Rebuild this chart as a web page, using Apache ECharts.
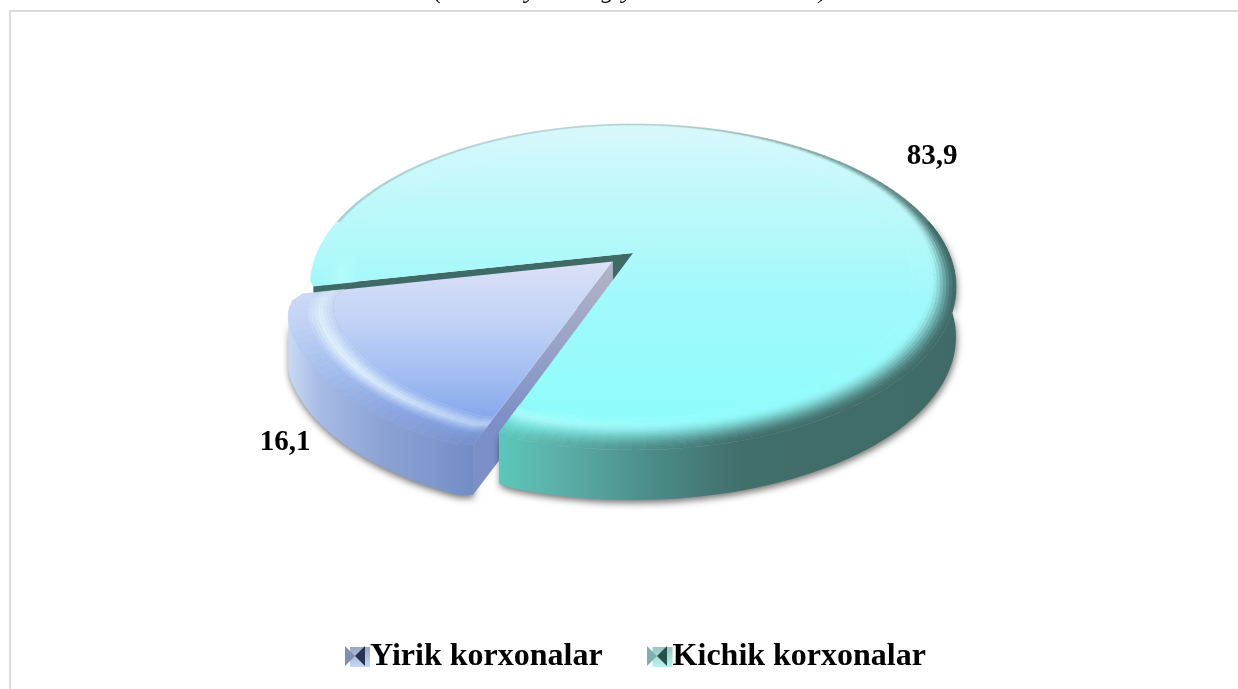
<!DOCTYPE html>
<html><head><meta charset="utf-8">
<style>html,body{margin:0;padding:0;background:#fff;overflow:hidden}#c{width:1238px;height:689px}</style>
<script src="https://cdn.jsdelivr.net/npm/echarts@6/dist/echarts.min.js"></script>
</head><body><div id="c"></div>
<script>
const categories = ['Yirik korxonalar', 'Kichik korxonalar'];
const shares = [16.1, 83.9];
const captionFragments = ['(', 'y', 'g', 'y', ')'];

const FONT = '"Liberation Serif","Times New Roman",serif';
const total = shares[0] + shares[1];
const FIRST = 200.2, CX = 633, CY = 253, YNEAR = 197, YFAR = 129, XMAX = 323, DEPTH = 50, RIM = 0.87;
const P = (YNEAR - YFAR) / (YNEAR + YFAR), A = YNEAR * (1 - P), B = XMAX * Math.sqrt(1 - P * P);
const rad = d => d * Math.PI / 180;
function proj(r, th, du, dv) {
  const u = r * Math.sin(rad(th)) + du, v = -r * Math.cos(rad(th)) + dv, k = 1 - P * v;
  return [CX + B * u / k, CY + A * v / k];
}
const lerp = (a, b, t) => a + (b - a) * t;
const clamp = (x, a, b) => Math.max(a, Math.min(b, x));
const hex = h => [1, 3, 5].map(i => parseInt(h.substr(i, 2), 16));
function ramp(stops, x) {
  if (x <= stops[0][0]) return hex(stops[0][1]);
  for (let i = 1; i < stops.length; i++) if (x <= stops[i][0]) {
    const t = (x - stops[i - 1][0]) / (stops[i][0] - stops[i - 1][0]);
    const a = hex(stops[i - 1][1]), b = hex(stops[i][1]);
    return a.map((c, j) => lerp(c, b[j], t));
  }
  return hex(stops[stops.length - 1][1]);
}
const mix = (a, b, t) => a.map((c, i) => lerp(c, b[i], t));
const css = c => 'rgb(' + c.map(Math.round).join(',') + ')';
const gradient = (x0, y0, x1, y1, stops) => new echarts.graphic.LinearGradient(x0, y0, x1, y1,
  stops.map(s => ({ offset: (s[0] - (x1 !== x0 ? x0 : y0)) / ((x1 !== x0 ? x1 - x0 : y1 - y0)), color: s[1] })), true);

const looks = [{
  face: [[262, '#dbe1f6'], [320, '#c2d3f6'], [370, '#a5c0f2'], [420, '#86a6ec'], [450, '#7f9fe6']],
  wall: [[288, '#c8daf4'], [320, '#a6bbe4'], [380, '#8da3d4'], [440, '#7d96cc'], [485, '#6d8ac4']],
  high: '#dff0fb', cut: [[262, '#b4b4c4'], [340, '#9aa4c8'], [420, '#7d8fc6'], [500, '#7b8fc8']],
  roundStart: 0.015, spanStart: 3, roundEnd: 0.05, spanEnd: 11
}, {
  face: [[124, '#d8f8fb'], [200, '#bff8fa'], [300, '#a0f9fb'], [440, '#8cfcfb']],
  wall: [[495, '#5cc8bb'], [560, '#5bb0a9'], [650, '#4c8c88'], [740, '#416f6c'], [960, '#3f6a67']],
  high: '#c6fdfb', cut: [[250, '#3e6a67'], [340, '#3e6a67']],
  roundStart: 0.01, spanStart: 3, roundEnd: 0.01, spanEnd: 3
}];

function sliceChildren(idx, value) {
  const look = looks[idx], sweep = value / total * 360;
  const start = idx === 0 ? FIRST : FIRST + shares[0] / total * 360, end = start + sweep;
  const mid = rad((start + end) / 2), e = idx === 0 ? 0.083 : 0;
  const du = e * Math.sin(mid), dv = -e * Math.cos(mid);
  const base = idx === 0 ? 5 : 20, out = [];
  const corner = (d, round, span) => {
    if (d >= span) return 1;
    const q = 1 - d / span;
    return 1 - round * (1 - Math.sqrt(1 - q * q));
  };
  const shrink = t => corner(t - start, look.roundStart, look.spanStart) * corner(end - t, look.roundEnd, look.spanEnd);
  const at = (r, t) => proj(r * shrink(t), t, du, dv);
  const angles = from => { const a = []; for (let t = from; t < end - 1e-6; t += 2) a.push(t); a.push(end); return a; };
  const apex = proj(0, 0, du, dv);
  const poly = (pts, fill, z2, extra) => out.push({ type: 'polygon', silent: true, z2, shape: { points: pts }, style: Object.assign({ fill }, extra || {}) });

  const pS = at(1, start);
  poly([apex, pS, [pS[0], pS[1] + DEPTH], [apex[0], apex[1] + DEPTH]],
    idx === 1 ? gradient(0, 250, 0, 340, look.cut) : gradient(0, 262, 0, 500, look.cut), idx === 1 ? 1 : base + 1);
  // outer wall: only the arc that faces the viewer, cut at the silhouette
  let front = angles(idx === 0 ? start : 360 + 78).map(t => at(1, t));
  if (idx === 0) {
    let best = 0;
    front.forEach((p, i) => { if (p[0] < front[best][0]) best = i; });
    front = front.slice(0, best + 1);
  }
  const lower = front.map(p => [p[0], p[1] + DEPTH]).reverse();
  poly(front.concat(lower), gradient(look.wall[0][0], 0, look.wall[look.wall.length - 1][0], 0, look.wall), base,
    { shadowBlur: 7, shadowColor: 'rgba(0,0,0,0.55)', shadowOffsetX: 1, shadowOffsetY: 3 });
  // top face
  const fy0 = look.face[0][0], fy1 = look.face[look.face.length - 1][0];
  poly([apex].concat(angles(start).map(t => at(RIM, t))), gradient(0, fy0, 0, fy1, look.face), base + 2);
  // bevelled rim
  const N = 14, list = angles(start);
  for (let a = 0; a < list.length - 1; a++) {
    const t = list[a], t2 = list[a + 1], tm = rad((t + t2) / 2);
    const su = Math.sin(tm), sv = -Math.cos(tm);
    for (let i = 0; i < N; i++) {
      const r0 = lerp(RIM, 1, i / N), r1 = lerp(RIM, 1, (i + 1) / N), m = (i + 0.5) / N;
      const q = [at(r0, t), at(r0, t2), at(r1, t2), at(r1, t)];
      const cy = (q[0][1] + q[2][1]) / 2, cx = (q[0][0] + q[2][0]) / 2;
      const w = clamp(0.55 + 0.6 * sv + 0.6 * su, 0, 1);
      let c = ramp(look.face, cy);
      const h = clamp(0.25 - 0.95 * su, 0, 1) * clamp(sv * 3, 0, 1) * clamp(1 - Math.abs(m - 0.3) / 0.3, 0, 1);
      c = mix(c, hex(look.high), h);
      const m0 = 0.5 - 0.35 * sv;
      const k = clamp((m - m0) / (1 - m0), 0, 1);
      c = mix(c, ramp(look.wall, cx), w * k * k * (3 - 2 * k));
      if (sv < -0.2) c = mix(c, [120, 140, 140], clamp((m - 0.9) / 0.1, 0, 1) * 0.55);
      const f = css(c);
      poly(q, f, base + 3, { stroke: f, lineWidth: 0.7 });
    }
  }
  out.push({
    type: 'text', silent: true, z2: 40,
    style: {
      text: String(value).replace('.', ','), fill: '#000', font: 'bold 29px ' + FONT,
      x: idx === 0 ? 285 : 932, y: idx === 0 ? 443 : 157, align: 'center', verticalAlign: 'middle'
    }
  });
  return out;
}

const makeSeries = idx => ({
  type: 'custom', name: categories[idx], coordinateSystem: 'none', silent: true,
  data: [[shares[idx]]],
  renderItem: (p, api) => ({ type: 'group', children: sliceChildren(idx, api.value(0)) })
});

const captionX = [438, 531, 608, 628, 823];
const legendMarks = (x, dark, mid) => [
  { type: 'polygon', silent: true, z: 50, shape: { points: [[x, 646], [x + 10, 656], [x, 666]] }, style: { fill: mid } },
  { type: 'polygon', silent: true, z: 50, shape: { points: [[x + 20, 646], [x + 10, 656], [x + 20, 666]] }, style: { fill: dark } }
];

const option = {
  animation: false,
  backgroundColor: '#fff',
  legend: {
    left: 345, top: 636, itemWidth: 20, itemHeight: 20, itemGap: 50, selectedMode: false,
    textStyle: { fontFamily: FONT, fontWeight: 'bold', fontSize: 32, color: '#000', padding: [0, 0, 0, -5] },
    data: [
      { name: categories[0], icon: 'rect', itemStyle: { color: new echarts.graphic.LinearGradient(0, 0, 0, 1, [{ offset: 0, color: '#9aa5c0' }, { offset: 1, color: '#c4d8f8' }]) } },
      { name: categories[1], icon: 'rect', itemStyle: { color: new echarts.graphic.LinearGradient(0, 0, 0, 1, [{ offset: 0, color: '#9cc4c4' }, { offset: 1, color: '#b8f4ec' }]) } }
    ]
  },
  graphic: [
    { type: 'polyline', silent: true, z: -1, shape: { points: [[10, 689], [10, 11], [1238, 11]] }, style: { stroke: '#dcdcdc', lineWidth: 2, fill: 'none' } },
    ...captionFragments.map((ch, i) => ({
      type: 'text', silent: true, style: { text: ch, x: captionX[i], y: -22, font: 'italic 26px ' + FONT, fill: '#000', align: 'center' }
    })),
    ...legendMarks(345, '#26344f', '#7f8fb2'),
    ...legendMarks(647, '#26504e', '#7fb0ae')
  ],
  series: [makeSeries(0), makeSeries(1)]
};
echarts.init(document.getElementById('c')).setOption(option);
</script></body></html>
